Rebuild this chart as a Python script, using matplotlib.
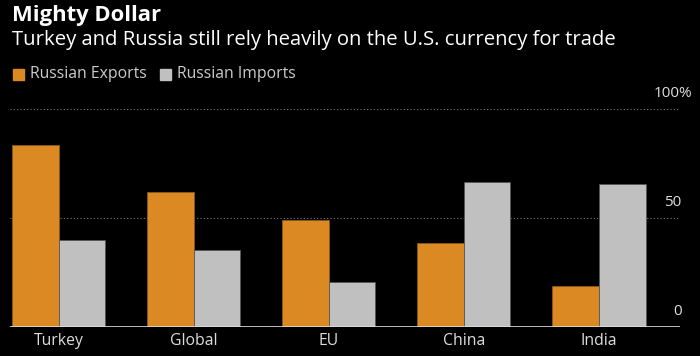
import matplotlib.pyplot as plt
import numpy as np

categories = ['Turkey', 'Global', 'EU', 'China', 'India']
exports = [83.5, 62, 49, 38.5, 19]
imports = [40, 35.5, 20.5, 66.5, 65.5]
y_ticks = [0, 50, 100]
y_tick_labels = ['0', '50', '100%']

ORANGE = '#DB8923'
GREY = '#C0C0C0'

plt.rcParams['font.family'] = ['Open Sans', 'DejaVu Sans']

fig = plt.figure(figsize=(7, 3.56), dpi=100, facecolor='black')
ax = fig.add_axes([10 / 700, 29 / 356, 670 / 700, 218 / 356], facecolor='black')

x = np.arange(len(categories))
w = 0.345
ax.bar(x - w / 2, exports, w, color=ORANGE, edgecolor='#8a5a1a', linewidth=0.6, zorder=2)
ax.bar(x + w / 2, imports, w, color=GREY, edgecolor='#555555', linewidth=0.6, zorder=2)

ax.set_xlim(-0.36, 4.6)
ax.set_ylim(0, 100)

for t in y_ticks[1:]:
    ax.axhline(t, color='#777777', linestyle=(0, (1, 2)), linewidth=0.8, zorder=1)
ax.axhline(0, color='#dddddd', linewidth=1.2, zorder=3)

for t, lab in zip(y_ticks, y_tick_labels):
    ax.annotate(lab, xy=(1, t), xycoords=('axes fraction', 'data'),
                xytext=(1, 6) if lab != '100%' else (9, 6), textcoords='offset points',
                ha='right', va='bottom', color='#dddddd', fontsize=11)

ax.set_xticks(x)
ax.set_xticklabels(categories, color='#dddddd', fontsize=11.3)
ax.tick_params(axis='x', length=0, pad=4)
ax.set_yticks([])
for s in ax.spines.values():
    s.set_visible(False)

fig.text(12 / 700, 1 - 15 / 356, 'Mighty Dollar', color='white', fontsize=15.8,
         fontweight='bold', va='center')
fig.text(12 / 700, 1 - 40 / 356,
         'Turkey and Russia still rely heavily on the U.S. currency for trade',
         color='white', fontsize=14.6, va='center')

# legend
fig.patches.append(plt.Rectangle((13 / 700, 1 - 80 / 356), 11 / 700, 11 / 356,
                                 color=ORANGE, transform=fig.transFigure))
fig.text(30 / 700, 1 - 74 / 356, 'Russian Exports', color='#cccccc', fontsize=11.3, va='center')
fig.patches.append(plt.Rectangle((160 / 700, 1 - 80 / 356), 11 / 700, 11 / 356,
                                 color=GREY, transform=fig.transFigure))
fig.text(177 / 700, 1 - 74 / 356, 'Russian Imports', color='#cccccc', fontsize=11.3, va='center')

fig.savefig('out.png', dpi=100, facecolor='black')
